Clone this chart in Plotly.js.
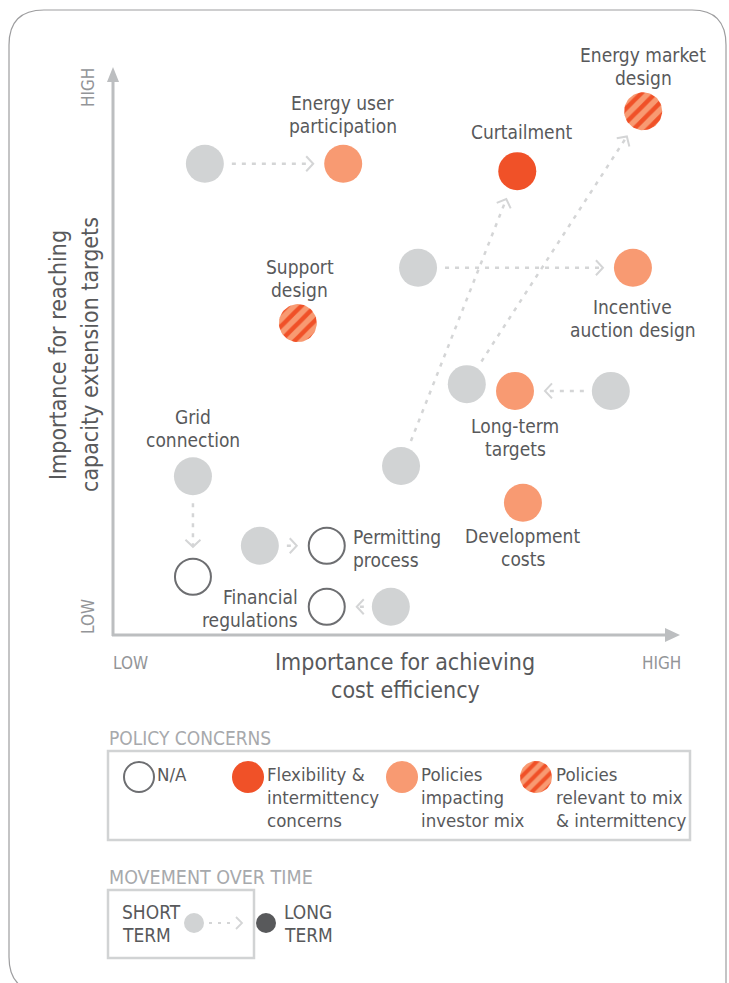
<!DOCTYPE html>
<html>
<head>
<meta charset="utf-8">
<script src="https://cdn.plot.ly/plotly-3.0.1.min.js"></script>
<style>html,body{margin:0;padding:0;background:#fff}</style>
</head>
<body>
<div id="chart" style="width:729px;height:983px"></div>
<script>
// policy areas, scored 0 (LOW) .. 100 (HIGH) on both axes
var policies = ['Energy user<br>participation', 'Curtailment', 'Energy market<br>design', 'Support<br>design',
  'Incentive<br>auction design', 'Long-term<br>targets', 'Grid<br>connection', 'Development<br>costs',
  'Permitting<br>process', 'Financial<br>regulations'];
var concern = ['investor', 'flex', 'both', 'both', 'investor', 'investor', 'na', 'investor', 'na', 'na'];
// short term position (null = no movement)
var costShort = [16.2, 50.8, 62.4, null, 53.8, 87.8, 14.1, null, 25.9, 49.0];
var capShort = [83.4, 29.9, 44.4, null, 65.0, 43.2, 28.1, null, 15.8, 5.0];
// long term position
var costLong = [40.6, 71.3, 93.5, 32.6, 91.7, 70.9, 14.1, 72.3, 37.7, 37.7];
var capLong = [83.4, 82.1, 92.7, 55.2, 65.0, 43.2, 10.3, 23.4, 15.8, 5.0];

// label placement (pixel offset of first line from long term point)
var labelDx = [0, 4, 0, 2, 0, 0, 0, 0, 24, -27];
var labelDy = [-61, -39, -56, -56, 39, 35, -160, 33, -9, -10];
var labelAlign = ['center', 'center', 'center', 'center', 'center', 'center', 'center', 'center', 'left', 'right'];

var W = 729, H = 983;
var X0 = 113, X1 = 680, Y0 = 635, Y1 = 70;   // plot area in pixels
var sx = (X1 - X0) / 100, sy = (Y0 - Y1) / 100;
var R = 19;

var FONT = '"Liberation Sans Narrow", "DejaVu Sans Condensed", "Roboto Condensed", sans-serif';
var GREY = '#d1d3d4', RED = '#f05128', ORANGE = '#f89a72', RING = '#6d6e71', TXT = '#58595b';

var lineX = [], lineY = [], chevX = [], chevY = [];
for (var i = 0; i < policies.length; i++) {
  if (costShort[i] === null) continue;
  var dx = (costLong[i] - costShort[i]) * sx, dy = (capLong[i] - capShort[i]) * sy;
  var len = Math.sqrt(dx * dx + dy * dy), ux = dx / len, uy = dy / len;
  var sxp = costShort[i] * sx + ux * (R + 8), syp = capShort[i] * sy + uy * (R + 8);
  var exp = costLong[i] * sx - ux * (R + 11), eyp = capLong[i] * sy - uy * (R + 11);
  lineX.push(sxp / sx, exp / sx, null);
  lineY.push(syp / sy, eyp / sy, null);
  // chevron
  var bx = exp - ux * 7, by = eyp - uy * 7;
  chevX.push((bx - uy * 7.5) / sx, exp / sx, (bx + uy * 7.5) / sx, null);
  chevY.push((by + ux * 7.5) / sy, eyp / sy, (by - ux * 7.5) / sy, null);
}

var data = [];
data.push({x: lineX, y: lineY, mode: 'lines', type: 'scatter', hoverinfo: 'skip',
  line: {color: '#d4d5d6', width: 2.5, dash: '4px,6px'}});
data.push({x: chevX, y: chevY, mode: 'lines', type: 'scatter', hoverinfo: 'skip',
  line: {color: '#d4d5d6', width: 2}});
data.push({x: costShort, y: capShort, mode: 'markers', type: 'scatter', cliponaxis: false,
  marker: {size: 2 * R, color: GREY, line: {width: 0}}});

var solidX = [], solidY = [], solidC = [], ringX = [], ringY = [];
for (var i = 0; i < policies.length; i++) {
  if (concern[i] === 'na') { ringX.push(costLong[i]); ringY.push(capLong[i]); }
  else if (concern[i] === 'both') {
    var px = [], py = [];
    for (var k = 0; k <= 60; k++) {
      var a = k / 60 * 2 * Math.PI;
      px.push(costLong[i] + R * Math.cos(a) / sx);
      py.push(capLong[i] + R * Math.sin(a) / sy);
    }
    data.push({x: px, y: py, mode: 'lines', type: 'scatter', fill: 'toself', hoverinfo: 'skip',
      line: {width: 0, color: ORANGE}, fillcolor: ORANGE,
      fillpattern: {shape: '/', bgcolor: ORANGE, fgcolor: RED, size: 10, solidity: 0.45}});
  } else {
    solidX.push(costLong[i]); solidY.push(capLong[i]);
    solidC.push(concern[i] === 'flex' ? RED : ORANGE);
  }
}
data.push({x: solidX, y: solidY, mode: 'markers', type: 'scatter', cliponaxis: false,
  marker: {size: 2 * R, color: solidC, line: {width: 0}}});
data.push({x: ringX, y: ringY, mode: 'markers', type: 'scatter', cliponaxis: false,
  marker: {size: 2 * R - 2, color: '#fff', line: {width: 2, color: RING}}});

// hatched swatch for the legend (page pixel axes)
var hx = [], hy = [];
for (var k = 0; k <= 60; k++) {
  var a = k / 60 * 2 * Math.PI;
  hx.push(536 + 16 * Math.cos(a)); hy.push(777 + 16 * Math.sin(a));
}
data.push({x: hx, y: hy, xaxis: 'x2', yaxis: 'y2', mode: 'lines', type: 'scatter', fill: 'toself',
  hoverinfo: 'skip', line: {width: 0, color: ORANGE}, fillcolor: ORANGE,
  fillpattern: {shape: '/', bgcolor: ORANGE, fgcolor: RED, size: 9, solidity: 0.45}});

var ann = [];
function txt(x, y, s, size, color, opts) {
  var a = {xref: 'x2', yref: 'y2', x: x, y: y, text: s, showarrow: false,
    font: {family: FONT, size: size, color: color}, xanchor: 'left', yanchor: 'middle'};
  for (var k in opts) a[k] = opts[k];
  ann.push(a);
}

for (var i = 0; i < policies.length; i++) {
  var lines = policies[i].split('<br>');
  for (var j = 0; j < lines.length; j++) {
    ann.push({xref: 'x', yref: 'y', x: costLong[i], y: capLong[i], text: lines[j], showarrow: false,
      xshift: labelDx[i], yshift: -(labelDy[i] + j * 23), xanchor: labelAlign[i], yanchor: 'middle',
      font: {family: FONT, size: 19, color: TXT}});
  }
}

// axis titles and LOW / HIGH
txt(405, 662, 'Importance for achieving', 23, TXT, {xanchor: 'center'});
txt(405, 690, 'cost efficiency', 23, TXT, {xanchor: 'center'});
txt(58, 355, 'Importance for reaching', 23, TXT, {xanchor: 'center', textangle: -90});
txt(90, 355, 'capacity extension targets', 23, TXT, {xanchor: 'center', textangle: -90});
txt(88, 88, 'HIGH', 17, '#939598', {xanchor: 'center', textangle: -90});
txt(88, 617, 'LOW', 17, '#939598', {xanchor: 'center', textangle: -90});
txt(130, 663, 'LOW', 17, '#939598', {xanchor: 'center'});
txt(661, 663, 'HIGH', 17, '#939598', {xanchor: 'center'});

// legend texts
txt(107, 738, 'POLICY CONCERNS', 19, '#a7a9ac');
txt(155, 774, 'N/A', 18.5, TXT);
var legTxt = [[265, ['Flexibility &', 'intermittency', 'concerns']],
  [419, ['Policies', 'impacting', 'investor mix']],
  [554, ['Policies', 'relevant to mix', '& intermittency']]];
legTxt.forEach(function (g) {
  g[1].forEach(function (s, j) { txt(g[0], 774 + j * 23, s, 18.5, TXT); });
});
txt(107, 877, 'MOVEMENT OVER TIME', 19.5, '#a7a9ac');
txt(120, 912, 'SHORT', 19, TXT);
txt(120, 935, 'TERM', 19, TXT);
txt(282, 912, 'LONG', 19, TXT);
txt(282, 935, 'TERM', 19, TXT);

var shapes = [
  // frame
  {type: 'path', xref: 'x2', yref: 'y2', line: {color: '#9d9d9f', width: 1.2},
    path: 'M44,992 Q9,992 9,957 L9,45 Q9,10 44,10 L692,10 Q726,10 726,45 L726,992'},
  // axes
  {type: 'line', xref: 'x2', yref: 'y2', x0: X0, y0: Y0 + 1, x1: X0, y1: 80, line: {color: '#bcbec0', width: 3}},
  {type: 'path', xref: 'x2', yref: 'y2', path: 'M107,82 L113,67 L119,82 Z', fillcolor: '#bcbec0', line: {width: 0}},
  {type: 'line', xref: 'x2', yref: 'y2', x0: X0 - 1, y0: Y0, x1: 668, y1: Y0, line: {color: '#bcbec0', width: 3}},
  {type: 'path', xref: 'x2', yref: 'y2', path: 'M665,628 L680,635 L665,642 Z', fillcolor: '#bcbec0', line: {width: 0}},
  // legend boxes
  {type: 'rect', xref: 'x2', yref: 'y2', x0: 108, y0: 751, x1: 690, y1: 840, line: {color: '#d1d3d4', width: 2.5}},
  {type: 'rect', xref: 'x2', yref: 'y2', x0: 108, y0: 890, x1: 254, y1: 958, line: {color: '#d1d3d4', width: 2.5}},
  // legend swatches
  {type: 'circle', xref: 'x2', yref: 'y2', x0: 124, y0: 762, x1: 154, y1: 792, line: {color: RING, width: 2}, fillcolor: '#fff'},
  {type: 'circle', xref: 'x2', yref: 'y2', x0: 232, y0: 761, x1: 264, y1: 793, line: {width: 0}, fillcolor: RED},
  {type: 'circle', xref: 'x2', yref: 'y2', x0: 386, y0: 761, x1: 418, y1: 793, line: {width: 0}, fillcolor: ORANGE},
  {type: 'circle', xref: 'x2', yref: 'y2', x0: 184, y0: 913, x1: 204, y1: 933, line: {width: 0}, fillcolor: GREY},
  {type: 'circle', xref: 'x2', yref: 'y2', x0: 256, y0: 913, x1: 276, y1: 933, line: {width: 0}, fillcolor: '#58595b'},
  {type: 'line', xref: 'x2', yref: 'y2', x0: 209, y0: 923, x1: 234, y1: 923, line: {color: '#d4d5d6', width: 2, dash: '3px,6px'}},
  {type: 'path', xref: 'x2', yref: 'y2', path: 'M236,917 L242,923 L236,929', line: {color: '#d4d5d6', width: 1.8}}
];

var layout = {
  width: W, height: H,
  margin: {l: 0, r: 0, t: 0, b: 0},
  showlegend: false,
  paper_bgcolor: '#ffffff',
  plot_bgcolor: 'rgba(0,0,0,0)',
  xaxis: {domain: [X0 / W, X1 / W], range: [0, 100], visible: false, fixedrange: true},
  yaxis: {domain: [1 - Y0 / H, 1 - Y1 / H], range: [0, 100], visible: false, fixedrange: true},
  xaxis2: {domain: [0, 1], range: [0, W], visible: false, anchor: 'y2', fixedrange: true},
  yaxis2: {domain: [0, 1], range: [H, 0], visible: false, anchor: 'x2', fixedrange: true},
  shapes: shapes,
  annotations: ann
};

Plotly.newPlot('chart', data, layout, {staticPlot: true});
</script>
</body>
</html>
